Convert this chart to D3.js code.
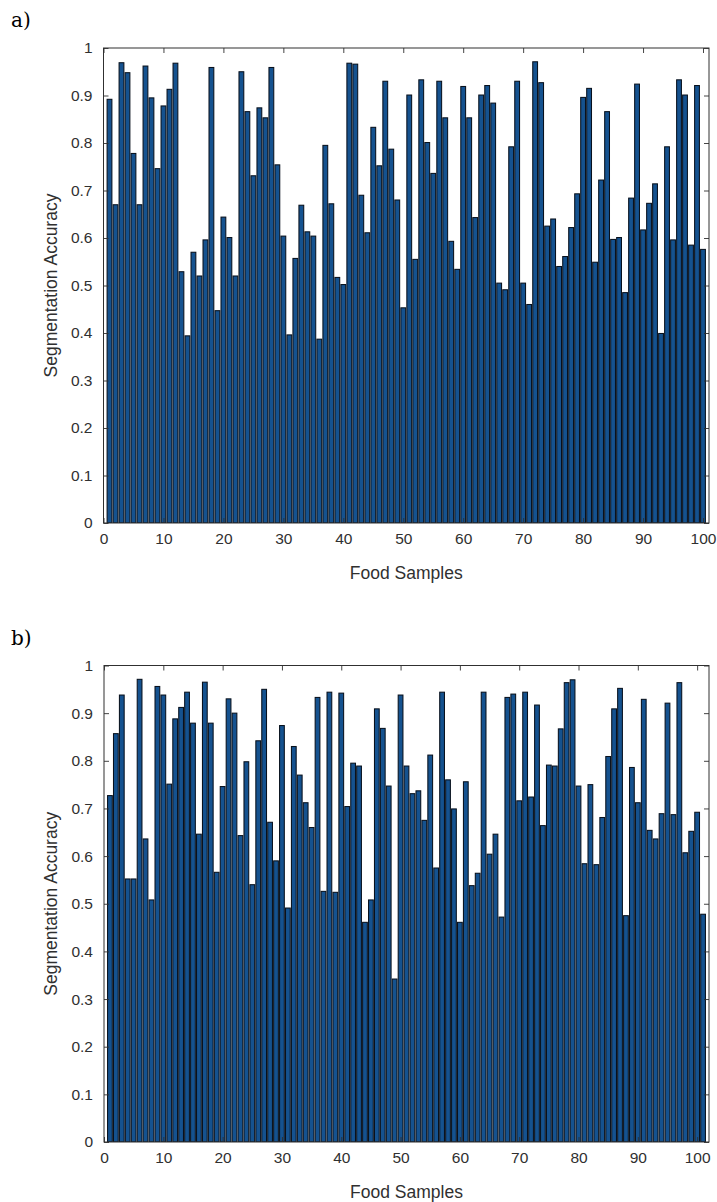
<!DOCTYPE html>
<html>
<head>
<meta charset="utf-8">
<script src="https://cdn.jsdelivr.net/npm/d3@7"></script>
<style>
  body { margin: 0; background: #fff; }
  svg { display: block; }
  .tick text { font-family: "Liberation Sans", Arial, sans-serif; fill: #303030; }
  .axTitle { font-family: "Liberation Sans", Arial, sans-serif; fill: #303030; }
  .panelLabel { font-family: "DejaVu Serif", "Liberation Serif", serif; fill: #000; }
</style>
</head>
<body>
<div id="chart"></div>
<script>
var width = 717, height = 1202;

// panel a: 100 food samples
var accuracyA = [
  0.892, 0.670, 0.969, 0.948, 0.778, 0.670, 0.962, 0.895, 0.746, 0.878,
  0.913, 0.968, 0.529, 0.394, 0.570, 0.520, 0.596, 0.959, 0.447, 0.644,
  0.601, 0.520, 0.950, 0.866, 0.731, 0.874, 0.853, 0.959, 0.754, 0.604,
  0.396, 0.557, 0.669, 0.613, 0.604, 0.387, 0.795, 0.672, 0.517, 0.502,
  0.968, 0.966, 0.690, 0.611, 0.833, 0.752, 0.930, 0.787, 0.680, 0.453,
  0.901, 0.555, 0.933, 0.801, 0.736, 0.930, 0.853, 0.593, 0.534, 0.919,
  0.853, 0.643, 0.901, 0.921, 0.884, 0.505, 0.491, 0.792, 0.930, 0.505,
  0.460, 0.971, 0.927, 0.625, 0.640, 0.540, 0.561, 0.622, 0.693, 0.896,
  0.915, 0.549, 0.722, 0.866, 0.597, 0.601, 0.485, 0.684, 0.924, 0.617,
  0.673, 0.714, 0.399, 0.792, 0.596, 0.933, 0.901, 0.585, 0.921, 0.576
];

// panel b: 101 food samples
var accuracyB = [
  0.727, 0.857, 0.938, 0.552, 0.552, 0.971, 0.636, 0.508, 0.956, 0.938,
  0.751, 0.888, 0.912, 0.944, 0.879, 0.646, 0.965, 0.879, 0.566, 0.746,
  0.930, 0.900, 0.643, 0.798, 0.540, 0.842, 0.950, 0.671, 0.590, 0.874,
  0.491, 0.830, 0.770, 0.712, 0.660, 0.933, 0.526, 0.944, 0.524, 0.942,
  0.704, 0.795, 0.789, 0.461, 0.508, 0.909, 0.868, 0.747, 0.342, 0.938,
  0.789, 0.731, 0.737, 0.675, 0.812, 0.575, 0.944, 0.760, 0.699, 0.461,
  0.756, 0.538, 0.564, 0.944, 0.604, 0.646, 0.472, 0.933, 0.940, 0.716,
  0.944, 0.724, 0.917, 0.664, 0.791, 0.789, 0.867, 0.964, 0.970, 0.747,
  0.584, 0.750, 0.582, 0.681, 0.809, 0.909, 0.952, 0.475, 0.786, 0.712,
  0.929, 0.654, 0.636, 0.689, 0.921, 0.687, 0.964, 0.607, 0.652, 0.692,
  0.478
];

var yTicks = [0, 0.1, 0.2, 0.3, 0.4, 0.5, 0.6, 0.7, 0.8, 0.9, 1];
var xTicks = [0, 10, 20, 30, 40, 50, 60, 70, 80, 90, 100];
var panelLabels = ["a)", "b)"];
var xTitle = "Food Samples", yTitle = "Segmentation Accuracy";

var panels = [
  { values: accuracyA, xMax: 101, left: 103.5, right: 709, top: 48, bottom: 523, label: panelLabels[0] },
  { values: accuracyB, xMax: 102, left: 104, right: 709, top: 665.5, bottom: 1142, label: panelLabels[1] }
];

var svg = d3.select('#chart').append('svg')
  .attr('width', width).attr('height', height);

panels.forEach(drawPanel);

function drawPanel(p) {

  var data = p.values.map(function(v, i) { return { sample: i + 1, acc: v }; });

  var x = d3.scaleLinear().domain([0, p.xMax]).range([p.left, p.right]);
  var y = d3.scaleLinear().domain([0, 1]).range([p.bottom, p.top]);
  var barW = (x(1) - x(0)) * 0.8;

  var g = svg.append('g');

  var clipId = 'clip' + p.label.charAt(0);
  g.append('clipPath').attr('id', clipId)
    .append('rect')
    .attr('x', p.left).attr('y', p.top)
    .attr('width', p.right - p.left).attr('height', p.bottom - p.top);

  g.append('g').attr('clip-path', 'url(#' + clipId + ')')
    .selectAll('rect.bar')
    .data(data)
    .enter().append('rect')
    .attr('class', 'bar')
    .attr('x', function(d) { return x(d.sample) - barW / 2; })
    .attr('width', barW)
    .attr('y', function(d) { return y(d.acc); })
    .attr('height', function(d) { return y(0) - y(d.acc); })
    .attr('fill', '#15528f')
    .attr('stroke', '#08111d')
    .attr('stroke-width', 1.05);

  // axes, ticks pointing inward on all four sides (box on)
  var tl = 5;
  var fmt = function(d) { return d3.format('~g')(d); };

  var yLeft = g.append('g').attr('transform', 'translate(' + p.left + ',0)')
    .call(d3.axisLeft(y).tickValues(yTicks).tickSize(-tl).tickPadding(11).tickFormat(fmt));
  var yRight = g.append('g').attr('transform', 'translate(' + p.right + ',0)')
    .call(d3.axisRight(y).tickValues(yTicks).tickSize(-tl).tickFormat(''));
  var xBottom = g.append('g').attr('transform', 'translate(0,' + p.bottom + ')')
    .call(d3.axisBottom(x).tickValues(xTicks).tickSize(-tl).tickPadding(10).tickFormat(fmt));
  var xTop = g.append('g').attr('transform', 'translate(0,' + p.top + ')')
    .call(d3.axisTop(x).tickValues(xTicks).tickSize(-tl).tickFormat(''));

  [yLeft, yRight, xBottom, xTop].forEach(function(a) {
    a.select('.domain').remove();
    a.selectAll('line').attr('stroke', '#303030').attr('stroke-width', 0.9);
    a.selectAll('text').style('font-size', '15.5px');
  });
  xBottom.selectAll('text').attr('dy', '0.71em');

  g.append('rect')
    .attr('x', p.left).attr('y', p.top)
    .attr('width', p.right - p.left).attr('height', p.bottom - p.top)
    .attr('fill', 'none').attr('stroke', '#303030').attr('stroke-width', 1);

  g.append('text').attr('class', 'axTitle')
    .attr('x', (p.left + p.right) / 2).attr('y', p.bottom + 56)
    .attr('text-anchor', 'middle')
    .style('font-size', '17.5px')
    .text(xTitle);

  g.append('text').attr('class', 'axTitle')
    .attr('transform', 'translate(' + (p.left - 47) + ',' + ((p.top + p.bottom) / 2) + ') rotate(-90)')
    .attr('text-anchor', 'middle')
    .style('font-size', '17.5px')
    .text(yTitle);

  g.append('text').attr('class', 'panelLabel')
    .attr('x', 11).attr('y', p.top - 21)
    .style('font-size', '20px')
    .text(p.label);
}
</script>
</body>
</html>
